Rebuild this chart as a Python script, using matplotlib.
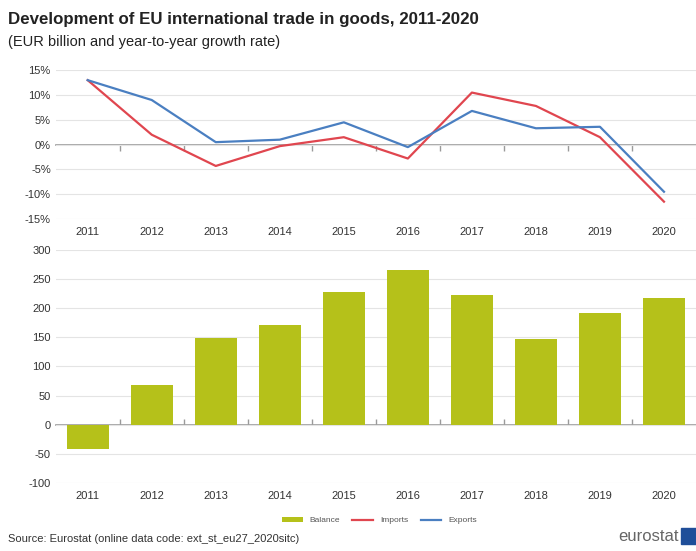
import matplotlib.pyplot as plt
import numpy as np

years = [2011, 2012, 2013, 2014, 2015, 2016, 2017, 2018, 2019, 2020]
exports_growth = [13.0, 9.0, 0.5, 1.0, 4.5, -0.5, 6.8, 3.3, 3.6, -9.5]
imports_growth = [13.0, 2.0, -4.3, -0.3, 1.5, -2.8, 10.5, 7.8, 1.5, -11.5]
balance = [-41, 68, 149, 171, 228, 265, 223, 148, 191, 217]

green = "#b5c11a"
red = "#e0464f"
blue = "#4a7fc1"
grid_c = "#e4e4e4"
axis_c = "#9a9a9a"

plt.rcParams["font.family"] = ["Liberation Sans", "DejaVu Sans"]
plt.rcParams["axes.unicode_minus"] = False

fig = plt.figure(figsize=(6.96, 5.51), dpi=100)
x = np.arange(len(years))

ax1 = fig.add_axes([0.080, 0.6025, 0.920, 0.270])
ax2 = fig.add_axes([0.080, 0.1234, 0.920, 0.423])


def style(ax, zero_frac):
    ax.set_xlim(-0.5, len(years) - 0.5)
    for s in ax.spines.values():
        s.set_visible(False)
    ax.grid(axis="y", color=grid_c, lw=0.8)
    ax.set_axisbelow(True)
    ax.set_xticks(x, [str(y) for y in years])
    ax.tick_params(axis="both", length=0, labelsize=8, colors="#333333")
    ax.tick_params(axis="x", pad=6)
    # zero line with tick marks between categories
    sec = ax.secondary_xaxis(zero_frac)
    sec.set_xticks(np.arange(0.5, len(years) - 1, 1.0), [])
    sec.tick_params(direction="in", length=4, color=axis_c, width=1)
    for s in sec.spines.values():
        s.set_color(axis_c)
        s.set_linewidth(1.2)


ax1.plot(x, imports_growth, color=red, lw=1.6, label="Imports")
ax1.plot(x, exports_growth, color=blue, lw=1.6, label="Exports")
ax1.set_ylim(-15, 15)
ax1.set_yticks(np.arange(-15, 16, 5), [f"{v}%" for v in range(-15, 16, 5)])
style(ax1, 0.5)

bars = ax2.bar(x, balance, width=0.66, color=green, label="Balance")
ax2.set_ylim(-100, 300)
ax2.set_yticks(np.arange(-100, 301, 50))
style(ax2, 0.25)

fig.text(0.012, 0.965, "Development of EU international trade in goods, 2011-2020",
         fontsize=12.2, fontweight="bold", color="#222222", va="center")
fig.text(0.012, 0.923, "(EUR billion and year-to-year growth rate)",
         fontsize=10.5, color="#222222", va="center")

h1, l1 = ax1.get_legend_handles_labels()
fig.legend([bars] + h1, ["Balance"] + l1, loc="center", bbox_to_anchor=(0.545, 0.055),
           ncol=3, frameon=False, fontsize=6, handlelength=2.5, handleheight=0.6,
           columnspacing=1.5, labelcolor="#555555")

fig.text(0.012, 0.012, "Source: Eurostat (online data code: ext_st_eu27_2020sitc)",
         fontsize=8, color="#333333", va="bottom")
fig.text(0.975, 0.012, "eurostat", fontsize=12, color="#666666", ha="right", va="bottom")
fig.patches.append(plt.Rectangle((0.978, 0.012), 0.022, 0.03, transform=fig.transFigure,
                                 color="#1f4e99"))

fig.savefig("out.png", dpi=100)
